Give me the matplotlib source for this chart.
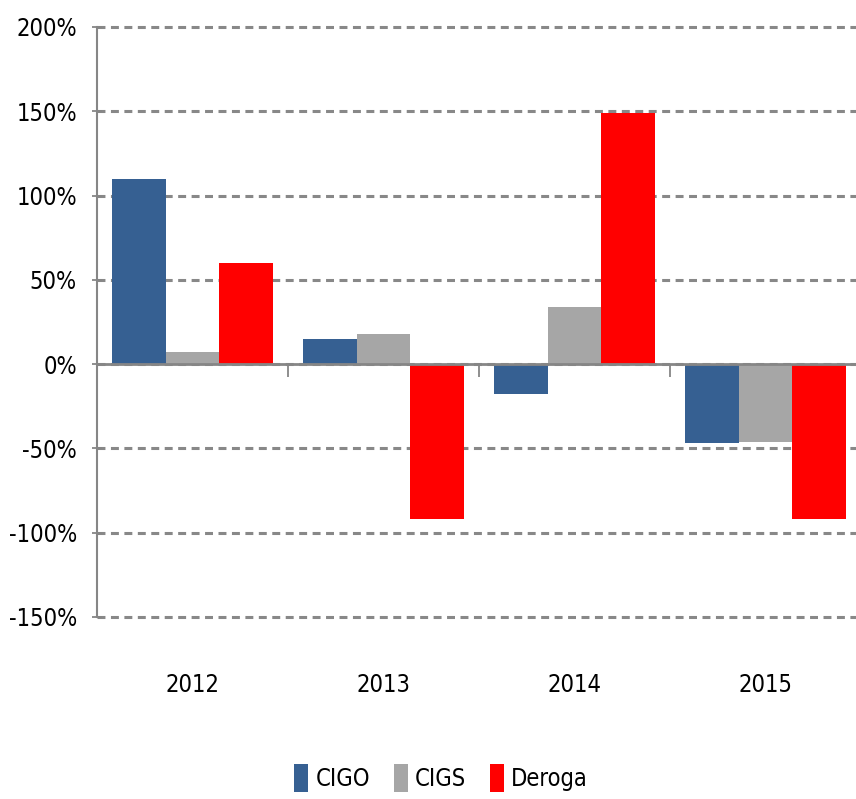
import matplotlib
matplotlib.use("Agg")
import matplotlib.pyplot as plt
import matplotlib.transforms as mtransforms
from matplotlib import font_manager as fm
from matplotlib.ticker import FixedLocator, FuncFormatter
import numpy as np

categories = ["2012", "2013", "2014", "2015"]
series_names = ["CIGO", "CIGS", "Deroga"]
cigo = [110, 15, -18, -47]
cigs = [7, 18, 34, -46]
deroga = [60, -92, 149, -92]
colors = ["#366092", "#a6a6a6", "#ff0000"]
yticks = [-150, -100, -50, 0, 50, 100, 150, 200]

# pick a narrow font if one is installed
narrow = None
for f in fm.fontManager.ttflist:
    n = (f.name + " " + str(f.fname)).lower()
    if ("narrow" in n or "condensed" in n) and f.weight in (400, "normal", "regular") and f.style == "normal":
        narrow = f.fname
        break
if narrow:
    fp = fm.FontProperties(fname=narrow, size=17)
else:
    fp = fm.FontProperties(family=['Liberation Sans', 'DejaVu Sans'], size=15)

fig = plt.figure(figsize=(8.56, 7.99), dpi=100)
ax = fig.add_axes([97/856, 1-617/799, 1-97/856, (617-27)/799])

x = np.arange(len(categories))
w = 0.28
for i, (vals, c, name) in enumerate(zip([cigo, cigs, deroga], colors, series_names)):
    ax.bar(x + (i-1)*w, vals, width=w, color=c, label=name, zorder=3)

ax.set_xlim(-0.5, 3.474)
ax.set_ylim(-150, 200)
ax.yaxis.set_major_locator(FixedLocator(yticks))
ax.yaxis.set_major_formatter(FuncFormatter(lambda v, p: f"{int(v)}%"))
ax.tick_params(axis='y', length=7, width=1.3, color='#868686', direction='inout', pad=11)
for lab in ax.get_yticklabels():
    lab.set_fontproperties(fp)
ax.grid(axis='y', color='#888888', linestyle=(0, (2.6, 1.8)), linewidth=2.2, zorder=0)
for gl in ax.get_ygridlines():
    gl.set_clip_on(False)

for s in ['top', 'right']:
    ax.spines[s].set_visible(False)
ax.spines['left'].set_color('#868686')
ax.spines['left'].set_linewidth(1.5)
ax.spines['bottom'].set_position(('data', 0))
ax.spines['bottom'].set_color('#868686')
ax.spines['bottom'].set_linewidth(2)
ax.spines['bottom'].set_zorder(4)

ax.set_xticks([])
ax.set_xticks([0.5, 1.5, 2.5], minor=True)
ax.tick_params(axis='x', which='minor', length=9, width=1.3, color='#868686', direction='out', labelbottom=False)

trans = mtransforms.blended_transform_factory(ax.transData, ax.transAxes)
for xi, cat in zip(x, categories):
    ax.text(xi, -0.115, cat, transform=trans, ha='center', va='center', fontproperties=fp)

leg = fig.legend(loc='center', bbox_to_anchor=(0.515, 1-778/799), ncol=3, frameon=False,
                 prop=fp, handlelength=0.6, handleheight=1.4, handletextpad=0.3,
                 columnspacing=1.0)

fig.savefig("out.png", dpi=100)
